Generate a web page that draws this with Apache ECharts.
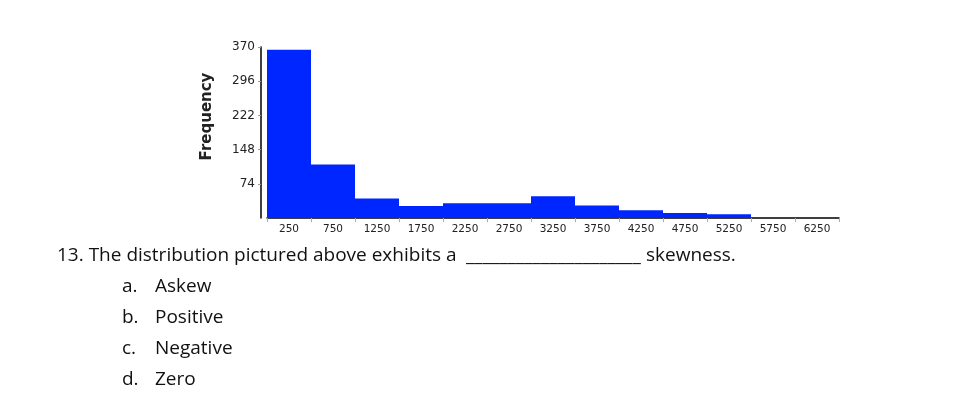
<!DOCTYPE html>
<html>
<head>
<meta charset="utf-8">
<script src="https://cdn.jsdelivr.net/npm/echarts@6/dist/echarts.min.js"></script>
<style>
  html, body { margin: 0; padding: 0; background: #ffffff; }
  #chart { width: 960px; height: 412px; }
</style>
</head>
<body>
<div id="chart"></div>
<script>
// Histogram bins (bin centres) and frequencies
const categories = ['250', '750', '1250', '1750', '2250', '2750', '3250', '3750', '4250', '4750', '5250', '5750', '6250'];
const frequencies = [364, 116, 42, 26, 32, 32, 47, 27, 17, 11, 8, 0, 0];
const yTickStep = 74;
const yMax = 370;
const yAxisTitle = 'Frequency';

// Question text below the chart
const questionText = '13. The distribution pictured above exhibits a';
const blankText = '_____________________';
const questionEnd = 'skewness.';
const optionLetters = ['a.', 'b.', 'c.', 'd.'];
const optionTexts = ['Askew', 'Positive', 'Negative', 'Zero'];

const chart = echarts.init(document.getElementById('chart'), null, { renderer: 'canvas' });

const textFont = '19px "Open Sans", sans-serif';
const textColor = '#111111';

const graphics = [
  { type: 'text', left: 57, top: 246, style: { text: questionText, font: textFont, fill: textColor } },
  { type: 'text', left: 466, top: 246, style: { text: blankText, font: textFont, fill: textColor } },
  { type: 'text', left: 646, top: 246, style: { text: questionEnd, font: textFont, fill: textColor } }
];
const optionTops = [277, 308, 339, 370];
optionLetters.forEach(function (l, i) {
  graphics.push({ type: 'text', left: 122, top: optionTops[i], style: { text: l, font: textFont, fill: textColor } });
  graphics.push({ type: 'text', left: 155, top: optionTops[i], style: { text: optionTexts[i], font: textFont, fill: textColor } });
});

chart.setOption({
  animation: false,
  backgroundColor: '#ffffff',
  grid: { left: 267, top: 47, width: 572, height: 171, containLabel: false },
  xAxis: {
    type: 'category',
    data: categories,
    boundaryGap: true,
    axisLine: { show: true, lineStyle: { color: '#000000', width: 1.5 } },
    axisTick: { show: true, alignWithLabel: false, length: 4, lineStyle: { color: '#aaaaaa' } },
    axisLabel: { show: true, interval: 0, margin: 6, color: '#222222', fontFamily: 'DejaVu Sans', fontSize: 10.5 },
    splitLine: { show: false }
  },
  yAxis: {
    type: 'value',
    min: 0,
    max: yMax,
    interval: yTickStep,
    offset: 6,
    name: yAxisTitle,
    nameLocation: 'middle',
    nameRotate: 90,
    nameGap: 46,
    nameTextStyle: { fontFamily: 'DejaVu Sans', fontWeight: 'bold', fontSize: 15, color: '#222222', padding: [0, 0, 0, 32] },
    axisLine: { show: true, lineStyle: { color: '#000000', width: 1.5 } },
    axisTick: { show: true, length: 3, lineStyle: { color: '#999999' } },
    axisLabel: { showMinLabel: false, margin: 6, color: '#222222', fontFamily: 'DejaVu Sans', fontSize: 12 },
    splitLine: { show: false }
  },
  series: [{
    type: 'bar',
    data: frequencies,
    barWidth: '100%',
    barCategoryGap: 0,
    itemStyle: { color: '#0026ff' },
    silent: true
  }],
  graphic: graphics
});
</script>
</body>
</html>
